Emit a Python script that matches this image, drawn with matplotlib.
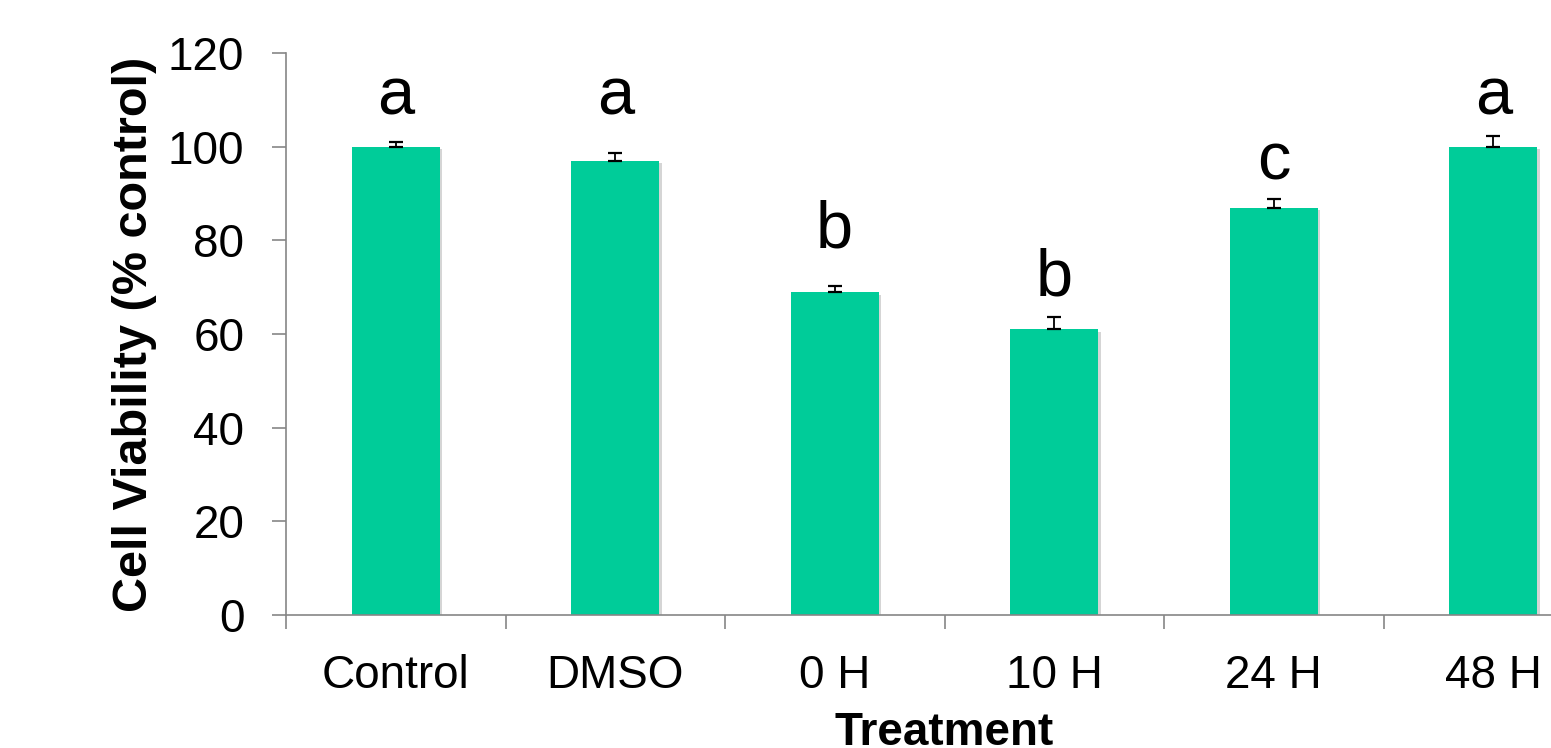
import matplotlib
matplotlib.use("Agg")
import matplotlib.pyplot as plt
import matplotlib.patheffects as pe
import numpy as np

categories = ["Control", "DMSO", "0 H", "10 H", "24 H", "48 H"]
viability = [100, 97, 69, 61, 87, 100]
err_upper = [1.0, 1.6, 1.35, 2.7, 1.9, 2.3]
letters = ["a", "a", "b", "b", "c", "a"]
letter_y = [106.8, 106.8, 78.4, 68.3, 92.9, 106.8]
yticks = [0, 20, 40, 60, 80, 100, 120]

plt.rcParams['font.family'] = ['Liberation Sans', 'DejaVu Sans']

fig = plt.figure(figsize=(15.51, 7.48), dpi=100)
ax = fig.add_axes([286/1551, 1-615/748, (1603-286)/1551, (615-53)/748])

x = np.arange(len(categories))
bars = ax.bar(x, viability, width=0.4, color="#00CC99", zorder=2)
for b in bars:
    b.set_path_effects([pe.SimplePatchShadow(offset=(2, -2), shadow_rgbFace="#888888", alpha=0.35), pe.Normal()])

ax.errorbar(x, viability, yerr=[[0]*len(x), err_upper], fmt="none", ecolor="black",
            elinewidth=1.3, capsize=4.7, capthick=1.6, zorder=3)

for xi, l, ly in zip(x, letters, letter_y):
    ax.text(xi, ly, l, ha="center", va="baseline", fontsize=48, color="black")

ax.set_xlim(-0.5, len(categories) - 0.5)
ax.set_ylim(0, 120)
ax.set_yticks(yticks)
ax.set_yticklabels([str(v) for v in yticks])
ax.set_xticks(x)
ax.set_xticklabels(categories)
ax.set_xticks(np.arange(len(categories) + 1) - 0.5, minor=True)

for s in ["top", "right"]:
    ax.spines[s].set_visible(False)
for s in ["left", "bottom"]:
    ax.spines[s].set_color("#868686")
    ax.spines[s].set_linewidth(1.2)

ax.tick_params(axis="y", which="major", length=10, width=1.2, color="#868686",
               labelsize=33, pad=20)
ax.tick_params(axis="x", which="major", length=0, labelsize=33, pad=28)
ax.tick_params(axis="x", which="minor", length=10, width=1.2, color="#868686")

ax.set_ylabel("Cell Viability (% control)", fontsize=35, fontweight="bold")
ax.yaxis.set_label_coords((135 - 286) / (1603 - 286), 0.5)
ax.yaxis.label.set_va("center")
ax.set_xlabel("Treatment", fontsize=33, fontweight="bold")
ax.xaxis.set_label_coords(0.5, -(717 - 615 - 6) / (615 - 53))
ax.xaxis.label.set_va("top")

fig.savefig("out.png", dpi=100)
